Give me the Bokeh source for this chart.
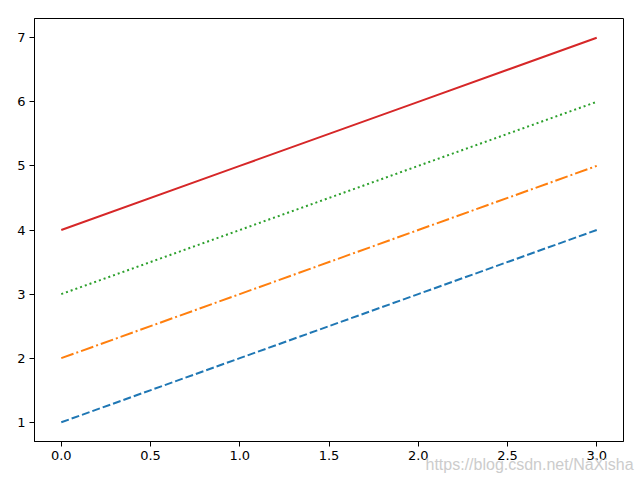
from bokeh.plotting import figure
from bokeh.models import Range1d, FixedTicker, NumeralTickFormatter, Title
from bokeh.embed import file_html
from bokeh.resources import INLINE

x = [0, 1, 2, 3]
y_blue = [1, 2, 3, 4]
y_orange = [2, 3, 4, 5]
y_green = [3, 4, 5, 6]
y_red = [4, 5, 6, 7]
x_ticks = [0.0, 0.5, 1.0, 1.5, 2.0, 2.5, 3.0]
y_ticks = [1, 2, 3, 4, 5, 6, 7]
watermark = "https://blog.csdn.net/NaXisha"

p = figure(width=640, height=480, output_backend="svg", toolbar_location=None,
           x_range=Range1d(-0.15, 3.15), y_range=Range1d(0.7, 7.3),
           frame_width=589, frame_height=423,
           min_border_left=34, min_border_right=17, min_border_top=18, min_border_bottom=39)
p.grid.visible = False
p.outline_line_color = "black"
p.outline_line_width = 1
p.background_fill_color = "white"
p.border_fill_color = "white"

p.line(x, y_blue, line_color="#1f77b4", line_width=2, line_dash="8 3")
p.line(x, y_orange, line_color="#ff7f0e", line_width=2, line_dash="13 3 2 3")
p.line(x, y_green, line_color="#2ca02c", line_width=2, line_dash="2 3")
p.line(x, y_red, line_color="#d62728", line_width=2)

p.xaxis.ticker = FixedTicker(ticks=x_ticks)
p.xaxis.formatter = NumeralTickFormatter(format="0.0")
p.yaxis.ticker = FixedTicker(ticks=y_ticks)
for ax in (p.xaxis, p.yaxis):
    ax.major_tick_in = 0
    ax.major_tick_out = 5
    ax.minor_tick_line_color = None
    ax.axis_line_color = "black"
    ax.major_tick_line_color = "black"
    ax.major_label_text_font = "DejaVu Sans"
    ax.major_label_text_font_size = "13px"
    ax.major_label_text_color = "black"
    ax.major_label_standoff = 4

wm = Title(text=watermark, align="left", offset=391, standoff=-20,
           text_font="Liberation Sans", text_font_size="16px",
           text_font_style="normal", text_color="#cccccc")
p.add_layout(wm, "below")

open("out.html", "w").write(file_html(p, INLINE))
